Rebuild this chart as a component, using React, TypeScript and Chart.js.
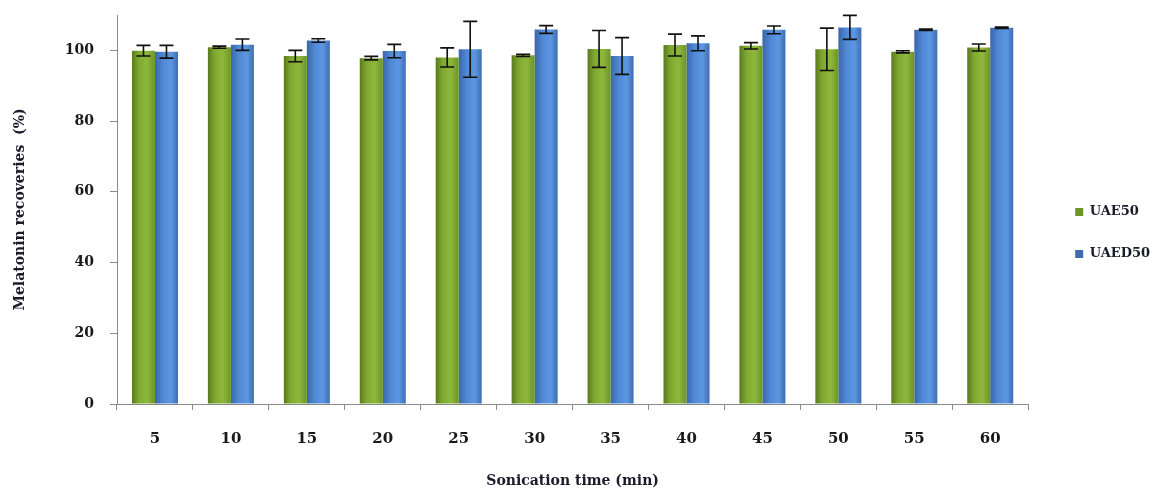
import React, { useEffect, useRef } from "react";
import { Chart, registerables } from "chart.js";

Chart.register(...registerables);

const categories = ["5", "10", "15", "20", "25", "30", "35", "40", "45", "50", "55", "60"];
const uae50 = [99.9, 100.9, 98.4, 97.8, 98.0, 98.6, 100.4, 101.5, 101.3, 100.3, 99.6, 100.8];
const uae50Err = [1.5, 0.3, 1.6, 0.5, 2.7, 0.3, 5.2, 3.1, 0.9, 6.0, 0.3, 1.0];
const uaed50 = [99.6, 101.6, 102.8, 99.8, 100.3, 105.9, 98.4, 102.0, 105.8, 106.5, 105.8, 106.4];
const uaed50Err = [1.8, 1.6, 0.5, 1.9, 7.9, 1.1, 5.2, 2.1, 1.1, 3.4, 0.2, 0.2];
const yTicks = [0, 20, 40, 60, 80, 100];

const errors = [uae50Err, uaed50Err];
const CAT_PCT = 0.606;
const FONT = "'DejaVu Serif', serif";

const greenStops: [number, string][] = [
  [0, "#5a7a1b"],
  [0.3, "#80a830"],
  [0.65, "#8eb83c"],
  [1, "#6e9426"],
];
const blueStops: [number, string][] = [
  [0, "#3a66ab"],
  [0.35, "#5089d6"],
  [0.7, "#5c97e1"],
  [1, "#3e6cb1"],
];

function barGradient(ctx: any, stops: [number, string][], solid: string) {
  if (ctx.type !== "data") return solid;
  const chart = ctx.chart;
  const xs = chart.scales && chart.scales.x;
  if (!xs || !chart.chartArea) return solid;
  const center = xs.getPixelForValue(ctx.dataIndex);
  const catW = xs.width / categories.length;
  const barW = (catW * CAT_PCT) / 2;
  const left = ctx.datasetIndex === 0 ? center - barW : center;
  const g = chart.ctx.createLinearGradient(left, 0, left + barW, 0);
  stops.forEach(([o, c]) => g.addColorStop(o, c));
  return g;
}

const errorBarPlugin = {
  id: "errorBars",
  afterDatasetsDraw(chart: any) {
    const ctx = chart.ctx;
    const ys = chart.scales.y;
    ctx.save();
    ctx.strokeStyle = "#111";
    ctx.lineWidth = 1.6;
    chart.data.datasets.forEach((ds: any, di: number) => {
      const meta = chart.getDatasetMeta(di);
      meta.data.forEach((el: any, i: number) => {
        const v = ds.data[i];
        const e = errors[di][i];
        const x = el.x;
        const yt = ys.getPixelForValue(v + e);
        const yb = ys.getPixelForValue(v - e);
        const cap = 7;
        ctx.beginPath();
        ctx.moveTo(x, yt);
        ctx.lineTo(x, yb);
        ctx.moveTo(x - cap, yt);
        ctx.lineTo(x + cap, yt);
        ctx.moveTo(x - cap, yb);
        ctx.lineTo(x + cap, yb);
        ctx.stroke();
      });
    });
    ctx.restore();
  },
};

const LEGEND_DX = 18;
const LEGEND_DY = -21;
const legendShiftPlugin = {
  id: "legendShift",
  afterLayout(chart: any) {
    const lg = chart.legend;
    if (!lg) return;
    lg.left += LEGEND_DX;
    lg.right += LEGEND_DX;
    lg.top += LEGEND_DY;
    lg.bottom += LEGEND_DY;
  },
};

export default function App() {
  const ref = useRef<HTMLCanvasElement | null>(null);
  useEffect(() => {
    if (!ref.current) return;
    const chart = new Chart(ref.current, {
      type: "bar",
      data: {
        labels: categories,
        datasets: [
          {
            label: "UAE50",
            data: uae50,
            backgroundColor: (c: any) => barGradient(c, greenStops, "#7ea72e"),
            borderWidth: 0,
            categoryPercentage: CAT_PCT,
            barPercentage: 1,
          },
          {
            label: "UAED50",
            data: uaed50,
            backgroundColor: (c: any) => barGradient(c, blueStops, "#4d88d2"),
            borderWidth: 0,
            categoryPercentage: CAT_PCT,
            barPercentage: 1,
          },
        ],
      },
      options: {
        animation: false,
        responsive: true,
        maintainAspectRatio: false,
        layout: { padding: { left: 9, top: 15, right: 32, bottom: 0 } },
        plugins: {
          tooltip: { enabled: false },
          legend: {
            position: "right",
            labels: {
              boxWidth: 8,
              boxHeight: 8,
              padding: 29,
              color: "#1a1a2a",
              font: { family: FONT, size: 13, weight: "bold" },
            },
          },
        },
        scales: {
          x: {
            grid: {
              display: true,
              offset: true,
              drawOnChartArea: false,
              drawTicks: true,
              tickLength: 6,
              color: "#8a8a8a",
            },
            border: { display: true, color: "#8a8a8a", width: 1 },
            ticks: {
              padding: 20,
              color: "#1a1a1a",
              font: { family: FONT, size: 15, weight: "bold" },
            },
            title: {
              display: true,
              text: "Sonication time (min)",
              color: "#1a1a2a",
              font: { family: FONT, size: 14, weight: "bold" },
              padding: { top: 0, bottom: 3 },
            },
            afterFit(scale: any) {
              scale.height = 89;
            },
          },
          y: {
            min: 0,
            max: 110,
            grid: {
              display: true,
              drawOnChartArea: false,
              drawTicks: true,
              tickLength: 7,
              color: "#8a8a8a",
            },
            border: { display: true, color: "#8a8a8a", width: 1 },
            ticks: {
              stepSize: 20,
              padding: 16,
              color: "#1a1a1a",
              font: { family: FONT, size: 14, weight: "bold" },
            },
            afterBuildTicks(scale: any) {
              scale.ticks = yTicks.map((v) => ({ value: v }));
            },
            title: {
              display: true,
              text: "Melatonin recoveries  (%)",
              color: "#1a1a2a",
              font: { family: FONT, size: 14, weight: "bold" },
              padding: { top: 3, bottom: 0 },
            },
            afterFit(scale: any) {
              scale.width = 108;
              scale.paddingTop = 0;
              scale.paddingBottom = 0;
            },
          },
        },
      },
      plugins: [errorBarPlugin, legendShiftPlugin],
    });
    return () => chart.destroy();
  }, []);
  return (
    <div style={{ position: "absolute", left: 0, top: 0, width: 1174, height: 493, background: "#fff" }}>
      <canvas ref={ref} />
    </div>
  );
}
